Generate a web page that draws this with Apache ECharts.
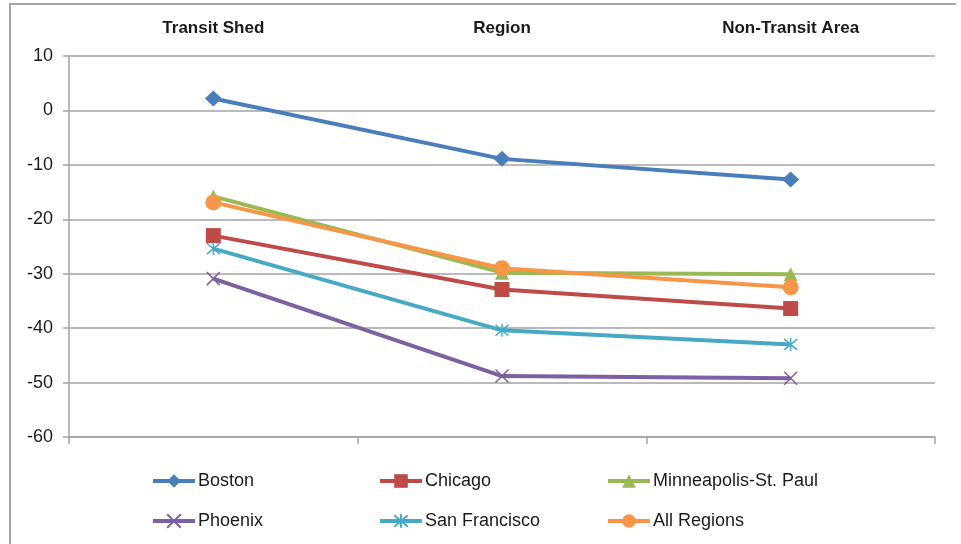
<!DOCTYPE html>
<html>
<head>
<meta charset="utf-8">
<title>Change by area</title>
<script src="https://cdn.jsdelivr.net/npm/echarts@6/dist/echarts.min.js"></script>
<style>
  html, body { margin: 0; padding: 0; background: #ffffff; }
  #chart { width: 961px; height: 544px; }
</style>
</head>
<body>
<div id="chart"></div>
<script>
// Categories along the top
const categories = ['Transit Shed', 'Region', 'Non-Transit Area'];

// Series values (percent change)
const boston = [2.2, -8.9, -12.7];
const chicago = [-23.0, -32.9, -36.4];
const minneapolis = [-15.8, -29.8, -30.1];
const phoenix = [-30.9, -48.8, -49.2];
const sanFrancisco = [-25.4, -40.4, -43.0];
const allRegions = [-16.9, -29.0, -32.5];

// Value axis range
const yMin = -60;
const yMax = 10;
const yStep = 10;

const fontFamily = '"Liberation Sans", Arial, sans-serif';
const textColor = '#1a1a1a';
const gridColor = '#a3a3a3';

// Custom marker shapes drawn as strokes
const crossPath = 'path://M0,0L10,10M10,0L0,10';
const starPath = 'path://M0,0L10,10M10,0L0,10M5,-1L5,11';

function lineSeries(name, data, color, symbol, size, stroked) {
  return {
    name: name,
    type: 'line',
    data: data,
    symbol: symbol,
    symbolSize: size,
    showSymbol: true,
    lineStyle: { color: color, width: 4 },
    itemStyle: stroked
      ? { color: color, borderColor: color, borderWidth: 1.5 }
      : { color: color, borderWidth: 0 },
    emphasis: { disabled: true },
    animation: false,
    xAxisIndex: 0,
    yAxisIndex: 0
  };
}

const series = [
  lineSeries('Boston', boston, '#4a7ebb', 'diamond', [17, 16], false),
  lineSeries('Chicago', chicago, '#be4b48', 'rect', 15, false),
  lineSeries('Minneapolis-St. Paul', minneapolis, '#98b954', 'triangle', 14, false),
  lineSeries('Phoenix', phoenix, '#7d60a0', crossPath, 13, true),
  lineSeries('San Francisco', sanFrancisco, '#46aac5', starPath, 13, true),
  lineSeries('All Regions', allRegions, '#f79646', 'circle', 16, false)
];

function legendColumn(left, names) {
  return {
    orient: 'vertical',
    left: left,
    top: 466,
    data: names,
    itemWidth: 42,
    itemHeight: 17,
    itemGap: 20,
    selectedMode: false,
    lineStyle: { width: 4 },
    textStyle: { fontFamily: fontFamily, fontSize: 18, color: textColor, lineHeight: 20, padding: [0, 0, 0, -2] }
  };
}

const option = {
  backgroundColor: '#ffffff',
  animation: false,
  grid: { left: 69, right: 26, top: 56, bottom: 107 },
  graphic: [{
    type: 'polyline',
    shape: { points: [[10, 544], [10, 4], [956, 4]] },
    style: { stroke: '#a6a6a6', lineWidth: 2, fill: null },
    silent: true
  }],
  legend: [
    legendColumn(146, ['Boston', 'Phoenix']),
    legendColumn(373, ['Chicago', 'San Francisco']),
    legendColumn(601, ['Minneapolis-St. Paul', 'All Regions'])
  ],
  xAxis: [
    {
      type: 'category',
      data: categories,
      position: 'top',
      boundaryGap: true,
      axisLine: { show: false },
      axisTick: { show: false },
      axisLabel: {
        margin: 19,
        fontFamily: fontFamily,
        fontSize: 17,
        fontWeight: 'bold',
        color: textColor
      }
    },
    {
      type: 'category',
      data: categories,
      position: 'bottom',
      boundaryGap: true,
      axisLine: { show: true, onZero: true, lineStyle: { color: gridColor, width: 1.5 } },
      axisTick: { show: true, length: 7, lineStyle: { color: gridColor, width: 1.5 } },
      axisLabel: { show: false }
    }
  ],
  yAxis: {
    type: 'value',
    min: yMin,
    max: yMax,
    interval: yStep,
    axisLine: { show: true, lineStyle: { color: gridColor, width: 1.5 } },
    axisTick: { show: true, length: 6, lineStyle: { color: gridColor, width: 1.5 } },
    splitLine: { show: true, lineStyle: { color: gridColor, width: 1.5 } },
    axisLabel: {
      margin: 16,
      fontFamily: fontFamily,
      fontSize: 18,
      color: textColor
    }
  },
  series: series
};

const chart = echarts.init(document.getElementById('chart'), null, { renderer: 'canvas' });
chart.setOption(option);
</script>
</body>
</html>
